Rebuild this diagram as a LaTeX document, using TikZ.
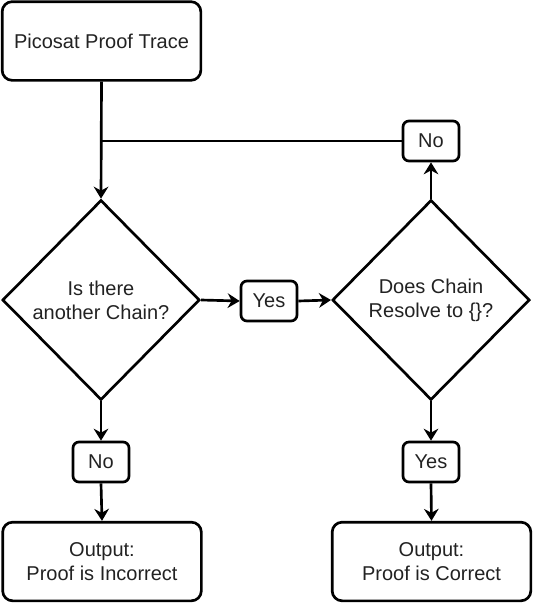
\documentclass[tikz,border=0pt]{standalone}
\usepackage{fontspec}
\setmainfont{Liberation Sans}
\usetikzlibrary{arrows.meta,shapes.geometric}
\definecolor{ink}{HTML}{222222}
\tikzset{
  every node/.style={font=\fontsize{15}{18}\selectfont, text=ink, align=center},
  bigbox/.style={draw, line width=2pt, rounded corners=7.5pt, inner sep=0pt,
    minimum width=149pt, minimum height=59pt},
  tag/.style={draw, line width=2pt, rounded corners=4.5pt, inner sep=0pt,
    minimum width=42pt, minimum height=30pt},
  choice/.style={draw, line width=2pt, diamond, inner sep=0pt, aspect=1,
    minimum width=148pt, minimum height=150pt},
  flow/.style={line width=2pt, -{Stealth[length=9pt, width=11pt, inset=3pt]}},
  plain/.style={line width=2pt}
}
\begin{document}
\begin{tikzpicture}[x=0.75pt, y=-0.75pt]
\useasboundingbox (0,0) rectangle (533,603);

\node[bigbox] (trace) at (101.5,41) {Picosat Proof Trace};
\node[choice] (another) at (101,300) {Is there\\another Chain?};
\node[choice] (resolve) at (431,300) {Does Chain\\Resolve to \{\}?};
\node[tag] (yesmid) at (269,301) {Yes};
\node[tag] (notop) at (431,141) {No};
\node[tag] (noleft) at (101,462) {No};
\node[tag] (yesright) at (431,462) {Yes};
\node[bigbox] (incorrect) at (102,561.5) {Output:\\Proof is Incorrect};
\node[bigbox] (correct) at (431.5,561.5) {Output:\\Proof is Correct};

\coordinate (join) at (trace.south |- notop.west);

\draw[flow] (trace.south) -- (another.north);
\draw[plain] (notop.west) -- (join);
\draw[flow] (resolve.north) -- (notop.south);
\draw[flow] (another.east) -- (yesmid.west);
\draw[flow] (yesmid.east) -- (resolve.west);
\draw[flow] (another.south) -- (noleft.north);
\draw[flow] (noleft.south) -- (incorrect.north);
\draw[flow] (resolve.south) -- (yesright.north);
\draw[flow] (yesright.south) -- (correct.north);
\end{tikzpicture}
\end{document}
